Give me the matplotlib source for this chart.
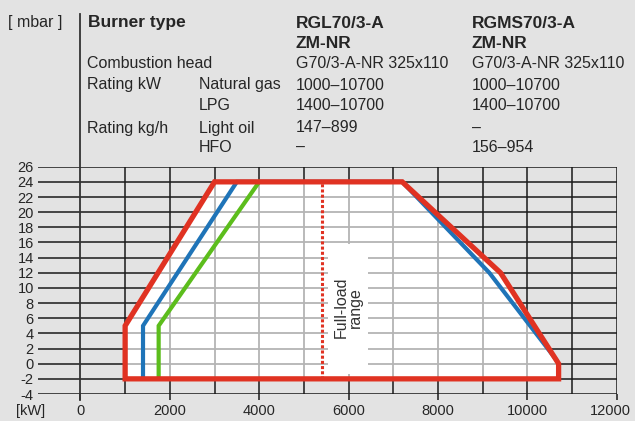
import matplotlib
matplotlib.use("Agg")
import matplotlib.pyplot as plt
from matplotlib.patches import Polygon, Rectangle
from matplotlib.transforms import ScaledTranslation
import numpy as np

plt.rcParams["font.family"] = ["Liberation Sans", "DejaVu Sans"]

# axis scales
X_TICKS = [0, 2000, 4000, 6000, 8000, 10000, 12000]
X_GRID = list(range(1000, 12001, 1000))
Y_TICKS = list(range(-4, 27, 2))

# working field envelope (red) and fuel-specific limits
RED_X = [1000, 1000, 3000, 7200, 9400, 10700, 10700]
RED_Y = [-2, 5, 24, 24, 12, 0, -2]
BLUE_X = [1400, 1400, 3500, 7200, 9150, 10650]
BLUE_Y = [-2, 5, 24, 24, 12, 0.5]
GREEN_X = [1750, 1750, 4000]
GREEN_Y = [-2, 5, 24]
FULL_LOAD_X = 5400

# header table
HEADER_ROWS = [
    ("Combustion head", "", "G70/3-A-NR 325x110", "G70/3-A-NR 325x110"),
    ("Rating kW", "Natural gas", "1000\u201310700", "1000\u201310700"),
    ("", "LPG", "1400\u201310700", "1400\u201310700"),
    ("Rating kg/h", "Light oil", "147\u2013899", "\u2013"),
    ("", "HFO", "\u2013", "156\u2013954"),
]
MODELS = [("RGL70/3-A", "ZM-NR"), ("RGMS70/3-A", "ZM-NR")]

RED = "#e03222"
BLUE = "#1f74b8"
GREEN = "#5cbd1c"
BG = "#e3e3e3"
INK = "#262626"

W, H = 635, 421
fig = plt.figure(figsize=(W / 100, H / 100), dpi=100, facecolor=BG)


def fx(px):
    return px / W


def fy(py):
    return 1 - py / H


ax = fig.add_axes([fx(38), fy(394), fx(616.7) - fx(38), fy(166.7) - fy(394)])
ax.set_facecolor(BG)
ax.set_xlim(-950, 12000)
ax.set_ylim(-4, 26)
for s in ax.spines.values():
    s.set_visible(False)

# black grid over background
ax.hlines(Y_TICKS, -950, 12000, color="#1a1a1a", lw=1.1, zorder=1)
ax.vlines(X_GRID, -4, 26, color="#1a1a1a", lw=1.1, zorder=1)

# white working field
field = Polygon(np.column_stack([RED_X, RED_Y]), closed=True,
                facecolor="white", edgecolor="none", zorder=2)
ax.add_patch(field)
gh = ax.hlines(Y_TICKS, -950, 12000, color="#b4b4b4", lw=1.3, zorder=3)
gv = ax.vlines(X_GRID, -4, 26, color="#b4b4b4", lw=1.3, zorder=3)
gh.set_clip_path(field)
gv.set_clip_path(field)

# label box for full-load text
ax.add_patch(Rectangle((5530, -1.4), 900, 17.2, facecolor="white",
                       edgecolor="none", zorder=4))
ax.text(6000, 7.4, "Full-load\nrange", rotation=90, ha="center", va="center",
        fontsize=11.5, linespacing=0.95, color="#333333", zorder=5)

ax.plot(BLUE_X, BLUE_Y, color=BLUE, lw=3.0, zorder=6, solid_joinstyle="miter")
ax.plot(GREEN_X, GREEN_Y, color=GREEN, lw=3.0, zorder=6, solid_joinstyle="miter")
ax.plot([FULL_LOAD_X, FULL_LOAD_X], [-2, 24], color=RED, lw=2.2,
        linestyle=(0, (1, 0.7)), zorder=6)
ax.add_patch(Polygon(np.column_stack([RED_X, RED_Y]), closed=True,
                     facecolor="none", edgecolor=RED, lw=3.8, zorder=7,
                     joinstyle="miter"))

# vertical axis line, running up through the header
ax.plot([0, 0], [-4.85, -4 + (394 - 14) / 7.577], color="#333333", lw=1.3,
        clip_on=False, zorder=8)

ax.set_xticks(X_TICKS)
ax.set_xticklabels([str(v) for v in X_TICKS])
ax.set_yticks(Y_TICKS)
ax.set_yticklabels([str(v) for v in Y_TICKS])
ax.tick_params(axis="x", direction="out", length=4.5, width=1.1,
               color="#1a1a1a", pad=2.5, labelsize=10.5, labelcolor=INK)
ax.tick_params(axis="y", length=0, pad=3, labelsize=10.5, labelcolor=INK)
last = ax.get_xticklabels()[-1]
last.set_transform(last.get_transform()
                   + ScaledTranslation(-6 / 100, 0, fig.dpi_scale_trans))

fig.text(fx(31), fy(411), "[kW]", ha="center", va="center", fontsize=10.5,
         color=INK)

# header
TXT = dict(fontsize=11.5, color=INK, va="center", ha="left")
BOLD = dict(TXT, fontsize=12.5, fontweight="bold")
fig.text(fx(8), fy(23), "[ mbar ]", **TXT)
fig.text(fx(88), fy(23), "Burner type", **BOLD)
col_x = [296, 471.5]
for cx, (m1, m2) in zip(col_x, MODELS):
    fig.text(fx(cx), fy(23), m1, **BOLD)
    fig.text(fx(cx), fy(43), m2, **BOLD)
row_y = [63, 85, 106, 128, 147]
for ry, (lab, sub, v1, v2) in zip(row_y, HEADER_ROWS):
    fig.text(fx(87), fy(ry), lab, **TXT)
    fig.text(fx(199), fy(ry), sub, **TXT)
    fig.text(fx(col_x[0]), fy(ry), v1, **TXT)
    fig.text(fx(col_x[1]), fy(ry), v2, **TXT)

fig.savefig("out.png", dpi=100, facecolor=BG)
